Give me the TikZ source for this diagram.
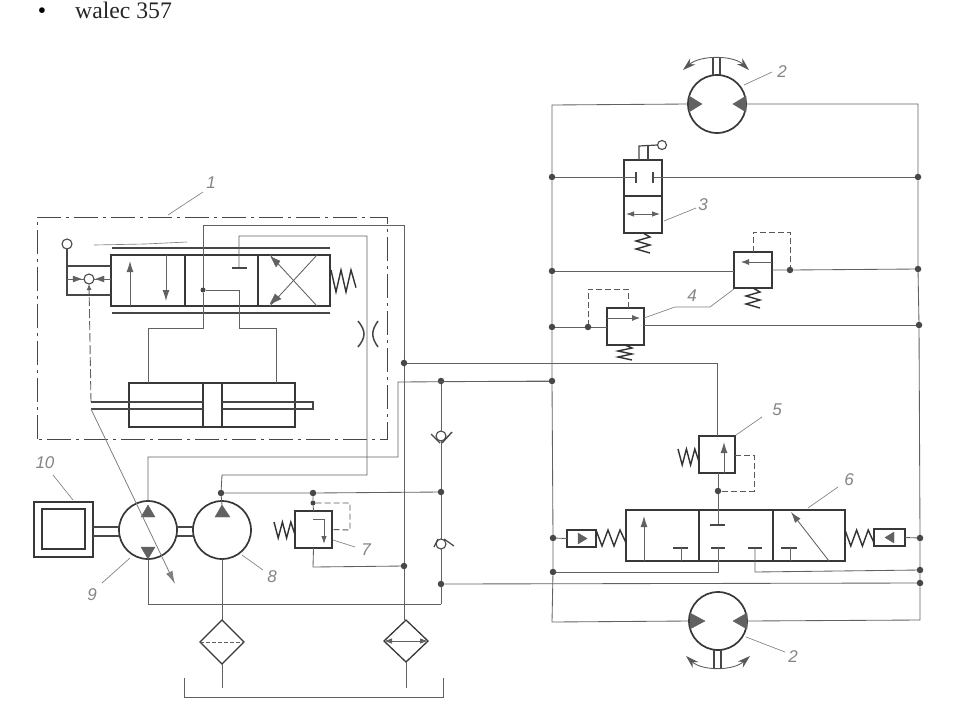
\documentclass[tikz,border=0pt]{standalone}
\usepackage{fontspec}
\setmainfont{Liberation Serif}
\newfontfamily\labfont{Liberation Sans}
\usetikzlibrary{arrows.meta,calc}
\newcommand{\hspr}[4]{% x1 x2 y amp
  \pgfmathsetmacro{\da}{(#2-#1)/5}
  \draw[sprg] (#1,{#3-#4})
    -- ({#1+\da},{#3+#4}) -- ({#1+2*\da},{#3-#4}) -- ({#1+3*\da},{#3+#4})
    -- ({#1+4*\da},{#3-#4}) -- (#2,{#3+#4*0.6});}
\newcommand{\vspr}[4]{% x y1 y2 amp
  \pgfmathsetmacro{\da}{(#3-#2)/5}
  \draw[sprg] (#1,#2) -- ({#1+#4},{#2+\da}) -- ({#1-#4},{#2+2*\da})
    -- ({#1+#4},{#2+3*\da}) -- ({#1-#4},{#2+4*\da}) -- ({#1+#4},#3);}
\tikzset{
  wire/.style={draw=black!62,line width=0.85pt},
  bodyb/.style={draw=black!78,line width=1.6pt,fill=none,inner sep=0pt,outer sep=0pt},
  thick wire/.style={draw=black!72,line width=1.2pt},
  sprg/.style={draw=black!80,line width=1.4pt,line join=miter},
  dsh/.style={draw=black!65,line width=0.9pt,dash pattern=on 6pt off 3pt},
  frm/.style={draw=black!72,line width=0.9pt,dash pattern=on 24pt off 5pt on 3pt off 5pt},
  lead/.style={draw=black!50,line width=0.65pt},
  jn/.style={circle,fill=black!72,inner sep=0pt,outer sep=0pt,minimum size=6.5pt},
  jns/.style={circle,fill=black!72,inner sep=0pt,outer sep=0pt,minimum size=5pt},
  rnd/.style={circle,draw=black!78,line width=1.7pt,inner sep=0pt,outer sep=0pt,minimum size=58pt},
  knob/.style={circle,draw=black!72,line width=1.1pt,inner sep=0pt,outer sep=0pt,minimum size=9pt},
  lab/.style={text=black!48,font=\labfont\itshape\fontsize{17}{17}\selectfont,inner sep=0pt},
  tri/.style={fill=black!62,draw=black!62,line width=0.4pt},
  ahd/.style={wire,-{Latex[length=11pt,width=7pt]}},
  ahs/.style={wire,-{Latex[length=8pt,width=6pt]}},
  ahb/.style={wire,{Latex[length=8pt,width=5.5pt]}-{Latex[length=8pt,width=5.5pt]}},
  rot/.style={draw=black!65,line width=0.85pt,{Stealth[length=13pt,width=8pt]}-{Stealth[length=13pt,width=8pt]}},
}
\begin{document}
\begin{tikzpicture}[x=1pt,y=-1pt]
\useasboundingbox (0,0) rectangle (960,710);
\fill[white] (0,0) rectangle (960,710);
% heading
\node[anchor=base,inner sep=0pt,font=\fontsize{23.7}{24}\selectfont] (bul) at (42,18) {•};
\node[anchor=base west,inner sep=0pt,text=black!85,font=\fontsize{23.7}{24}\selectfont] (head) at (75,18) {walec 357};

% ---------- components
\node[rnd] (m1) at (717,104) {};
\node[rnd] (m2) at (718,621) {};
\node[rnd] (p9) at (148,530) {};
\node[rnd] (p8) at (222,530) {};
\node[bodyb,minimum width=38pt,minimum height=73pt] (v3) at (643,196.5) {};
\node[bodyb,minimum width=38pt,minimum height=36pt] (v4a) at (753,270) {};
\node[bodyb,minimum width=37pt,minimum height=37pt] (v4b) at (625.5,326.5) {};
\node[bodyb,minimum width=36pt,minimum height=37pt] (v5) at (717,454.5) {};
\node[bodyb,minimum width=219pt,minimum height=51pt] (v6) at (735.5,535.5) {};
\node[bodyb,minimum width=37pt,minimum height=37pt] (v7) at (313.5,529.5) {};
\node[bodyb,minimum width=219pt,minimum height=51pt] (v1) at (220.5,280.5) {};
\node[bodyb,minimum width=166pt,minimum height=44pt] (cyl) at (212,405) {};
\node[bodyb,minimum width=19pt,minimum height=44pt] (pist) at (212.5,405) {};
\node[bodyb,minimum width=59pt,minimum height=55pt] (mot) at (63.5,529.5) {};
\node[bodyb,minimum width=43pt,minimum height=40pt] (moti) at (63.5,529) {};
\node[bodyb,minimum width=29pt,minimum height=17pt] (a1) at (581.5,538.5) {};
\node[bodyb,minimum width=31pt,minimum height=17pt] (a2) at (889.5,537.5) {};
\node[knob] (k3) at (662,145) {};
\node[knob,minimum size=10pt] (k1) at (67,244) {};
\node[knob,minimum size=10pt] (sh) at (89,279) {};
\node[knob,minimum size=10pt] (c1) at (441,436) {};
\node[knob,minimum size=10pt] (c2) at (441,544) {};

% junctions
\node[jn] (L177) at (552,177) {};
\node[jn] (L271) at (552,271) {};
\node[jn] (L327) at (552,327) {};
\node[jn] (L381) at (552,381) {};
\node[jn] (L538) at (553,538) {};
\node[jn] (L572) at (553,572) {};
\node[jn] (R177) at (918,177) {};
\node[jn] (R270) at (918,269) {};
\node[jn] (R325) at (919,325) {};
\node[jn] (R538) at (920,538) {};
\node[jn] (R570) at (920,570) {};
\node[jn] (R583) at (920,583) {};
\node[jn] (J790) at (790,270) {};
\node[jn] (J588) at (588,327) {};
\node[jn] (J718) at (718,491) {};
\node[jn] (J404) at (404,363) {};
\node[jn] (J441a) at (441,381) {};
\node[jn] (J441b) at (441,492) {};
\node[jn] (J441c) at (441,584) {};
\node[jn] (J221) at (221,493) {};
\node[jn] (J313) at (313,493) {};
\node[jns] (J313b) at (313,503) {};
\node[jn] (J404b) at (404,566) {};
\node[jns] (J203) at (203,290) {};

% filter diamonds
\draw[bodyb,line width=1.3pt] (222,620) coordinate (f1t) -- (244,642) coordinate (f1e) -- (222,664) coordinate (f1b) -- (200,642) coordinate (f1w) -- cycle;
\draw[bodyb,line width=1.3pt] (406,620) coordinate (f2t) -- (428,641) coordinate (f2e) -- (406,662) coordinate (f2b) -- (384,641) coordinate (f2w) -- cycle;
\draw[wire,dash pattern=on 4pt off 2pt] (f1w) -- (f1e);
\draw[ahb] (f2w) -- (f2e);

% ---------- right circuit
\coordinate (busTL) at (552,105); \coordinate (busBL) at (552,622);
\coordinate (busTR) at (918,104); \coordinate (busBR) at (920,620);
\draw[wire] (m1.west) -- (busTL) -- (L177) -- (L271) -- (L327) -- (L381) -- (L538) -- (L572) -- (busBL) -- (m2.west);
\draw[wire] (m1.east) -- (busTR) -- (R177) -- (R270) -- (R325) -- (R538) -- (R570) -- (R583) -- (busBR) -- (m2.east);
% valve 3
\draw[wire] (L177) -- (636,177);
\draw[wire] (653,177) -- (R177);
\draw[thick wire] (636,172) -- (636,183) (653,172) -- (653,183);
\draw[bodyb] (v3.west |- 0,196) -- (v3.east |- 0,196);
\draw[ahb] (626,214) -- (660,214);
\vspr{643}{233}{253}{7}
\draw[thick wire] (639,160) -- (639,146) -- (k3.west);
\draw[thick wire] (648,160) -- (648,146);
% valves 4
\draw[wire] (L271) -- (v4a.west |- L271);
\draw[wire] (v4a.east |- J790) -- (J790) -- (R270);
\draw[dsh] (v4a.north) -- (753,232) -- (790,232) -- (J790);
\draw[ahs] (772,262) -- (741,262);
\vspr{753}{288}{308}{7}
\draw[wire] (L327) -- (J588) -- (v4b.west |- J588);
\draw[wire] (v4b.east |- R325) -- (R325);
\draw[dsh] (v4b.north -| 628,0) -- (628,289) -- (588,289) -- (J588);
\draw[ahs] (607,318) -- (640,318);
\vspr{625}{345}{360}{7}
% valve 5
\draw[wire] (J404) -- (717,363) -- (v5.north);
\draw[ahd] (724,473) -- (724,442);
\hspr{678}{699}{457}{8}
\draw[dsh] (v5.east |- 0,455) -- (754,455) -- (754,491) -- (J718);
\draw[wire] (718,473) -- (J718) -- (718,525);
\draw[thick wire] (710,525) -- (725,525);
% valve 6
\draw[bodyb] (699,510) -- (699,561) (773,510) -- (773,561);
\draw[ahd] (644,561) -- (644,516);
\draw[thick wire] (673,548) -- (688,548);
\draw[wire] (681,548) -- (681,561);
\draw[thick wire] (711,548) -- (725,548);
\draw[thick wire] (748,548) -- (762,548);
\draw[thick wire] (781,548) -- (797,548);
\draw[wire] (790,548) -- (790,561);
\draw[ahd] (829,561) -- (791,512);
\draw[wire] (718,548) -- (718,572) -- (L572);
\draw[wire] (755,548) -- (755,572) -- (R570);
\hspr{596}{626}{538}{8}
\hspr{845}{874}{538}{8}
\draw[wire] (L538) -- (a1.west);
\draw[wire] (a2.east) -- (R538);
\fill[tri] (578,533) -- (587,538.5) -- (578,544) -- cycle;
\fill[tri] (894,532) -- (885,537.5) -- (894,543) -- cycle;
\draw[wire] (J441c) -- (R583);
\draw[wire] (J441a) -- (L381);

% motors: triangles and shafts
\fill[tri] (689,96) -- (702,104) -- (689,112) -- cycle;
\fill[tri] (746,96) -- (733,104) -- (746,112) -- cycle;
\fill[tri] (690,613) -- (705,621) -- (690,629) -- cycle;
\fill[tri] (747,613) -- (733,621) -- (747,629) -- cycle;
\draw[thick wire] (713,75) -- (713,57) (720,75) -- (720,57);
\draw[thick wire] (714,650) -- (714,668) (721,650) -- (721,668);
\draw[rot] (683,70) .. controls (700,55) and (733,55) .. (749,70);
\draw[rot] (686,656) .. controls (702,671) and (733,671) .. (750,656);

% ---------- left circuit
\draw[frm] (37,439) rectangle (387,217);
% main valve
\draw[bodyb] (185,255) -- (185,306) (258,255) -- (258,306);
\draw[thick wire,line width=1.5pt] (112,248) -- (330,248);
\draw[thick wire,line width=1.5pt] (112,313) -- (330,313);
\draw[lead] (94,245) -- (145,244) -- (187,242);
\draw[ahd] (130,306) -- (130,261);
\draw[ahd] (166,255) -- (166,301);
\draw[wire] (317,255) -- (270,306);
\draw[wire] (270,255) -- (317,306);
\fill[tri] (271,257) -- (280,261) -- (276,267) -- cycle;
\fill[tri] (270,304) -- (275,294) -- (281,299) -- cycle;
\hspr{331}{356}{281}{11}
% selector
\draw[thick wire] (k1.south) -- (67,295) -- (111,295);
\draw[thick wire] (67,266) -- (111,266);
\draw[wire] (67,279) -- (sh.west);
\draw[wire] (sh.east) -- (111,279);
\fill[tri] (73,276) -- (81,279) -- (73,282) -- cycle;
\fill[tri] (104,276) -- (96,279) -- (104,282) -- cycle;
\coordinate (rodL) at (91,402);
\draw[wire,dash pattern=on 9pt off 3pt,line width=0.9pt,-{Latex[length=6pt,width=5pt]}] (rodL) -- (sh.south);
% cylinder
\draw[thick wire] (91,402) -- (203,402) (222,402) -- (313,402) -- (313,409) -- (222,409) (203,409) -- (91,409) -- cycle;
% ports
\draw[wire] (148,383) -- (148,328) -- (203,328) -- (J203) -- (203,225) -- (404,225) -- (J404) -- (J404b) -- (404,620);
\draw[wire] (J203) -- (239,290) -- (239,328) -- (276,328) -- (276,383);
\draw[wire] (239,268) -- (239,236) -- (367,236) -- (367,475) -- (222,475) -- (J221) -- (222,505);
\draw[thick wire] (232,268) -- (247,268);
% throttle
\draw[thick wire,line width=1.5pt] (358,321) .. controls (366,331) and (366,337) .. (358,347);
\draw[thick wire,line width=1.5pt] (378,321) .. controls (371,331) and (371,337) .. (378,347);
% lines to pump 9 and bus
\draw[wire] (L381) -- (398,382) -- (398,457) -- (148,457) -- (p9.north);
\draw[wire] (J221) -- (J313) -- (J441b);
\draw[wire] (J313) -- (J313b) -- (v7.north);
\draw[dsh] (J313b) -- (350,503) -- (350,530) -- (v7.east);
\draw[wire] (v7.south) -- (313,567) -- (J404b);
\draw[wire,line width=1pt,-{Latex[length=8pt,width=5.5pt]}] (313,519) -- (324,519) -- (324,544);
\hspr{274}{295}{530}{8}
% check valves
\draw[wire] (J441a) -- (c1.north);
\draw[wire] (c1.south) -- (J441b) -- (c2.north);
\draw[wire] (c2.south) -- (J441c) -- (441,604);
\draw[thick wire,line width=1.4pt] (431,434) -- (440,443) (442,443) -- (452,432);
\draw[thick wire] (434,547) -- (438,539) (444,539) -- (454,546);
% pumps
\fill[tri] (148,505) -- (155,517) -- (141,517) -- cycle;
\fill[tri] (148,559) -- (155,547) -- (141,547) -- cycle;
\fill[tri] (222,505) -- (230,517) -- (215,517) -- cycle;
\draw[wire] (p9.south) -- (148,604) -- (441,604);
\draw[wire] (p8.south) -- (f1t);
\draw[thick wire] (mot.east |- 0,527) -- (p9.west |- 0,527);
\draw[thick wire] (mot.east |- 0,536) -- (p9.west |- 0,536);
\draw[thick wire] (p9.east |- 0,527) -- (p8.west |- 0,527);
\draw[thick wire] (p9.east |- 0,536) -- (p8.west |- 0,536);
% adjustment arrow
\draw[lead,line width=0.8pt,-{Latex[length=13pt,width=7pt]}] (91,409) -- (175,584);
% tank
\coordinate (t1) at (184,678); \coordinate (t2) at (184,697);
\coordinate (t3) at (443,697); \coordinate (t4) at (443,678);
\draw[wire] (t1) -- (t2) -- (t3) -- (t4);
\draw[wire] (f1b) -- (222,688);
\draw[wire] (f2b) -- (406,688);

% ---------- labels and leaders
\node[lab] (lab1) at (211,183) {1};
\node[lab] (lab2a) at (782,72) {2};
\node[lab] (lab3) at (703,205) {3};
\node[lab] (lab4) at (692,296) {4};
\node[lab] (lab5) at (777,410) {5};
\node[lab] (lab6) at (849,480) {6};
\node[lab] (lab2b) at (793,657) {2};
\node[lab] (lab7) at (366,550) {7};
\node[lab] (lab8) at (272,577) {8};
\node[lab] (lab9) at (92,595) {9};
\node[lab] (lab10) at (45,463) {10};
\coordinate (e1) at (168,215); \coordinate (e1b) at (203,192);
\draw[lead] (e1) -- (e1b);
\draw[lead] (744,85) coordinate (e2a) -- (772,72) coordinate (e2b);
\draw[lead] (664,221) -- (696,208);
\draw[lead] (644,318) -- (675,307) -- (710,307) -- (734,289);
\draw[lead] (736,435) -- (762,417);
\draw[lead] (808,508) -- (838,487);
\draw[lead] (746,637) -- (785,652);
\draw[lead] (333,540) -- (355,547);
\draw[lead] (242,555) -- (263,570);
\draw[lead] (130,558) -- (102,583);
\draw[lead] (53,475) -- (73,500);
\end{tikzpicture}
\end{document}
